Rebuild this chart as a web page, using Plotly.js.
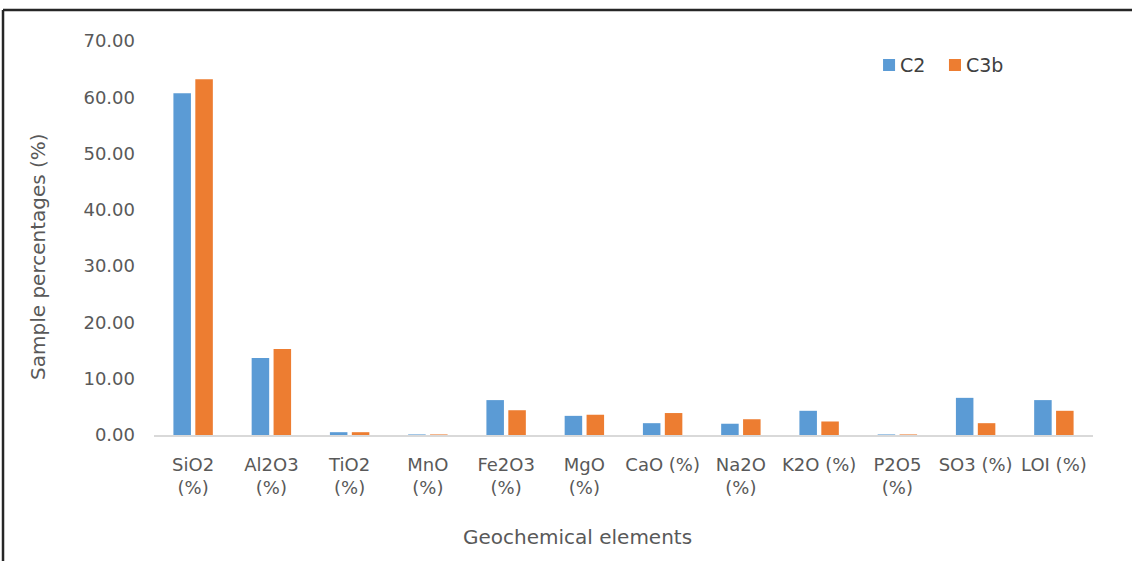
<!DOCTYPE html>
<html>
<head>
<meta charset="utf-8">
<script src="https://cdn.plot.ly/plotly-3.0.1.min.js"></script>
<style>
  html, body { margin: 0; padding: 0; background: #fff; }
  #chart { width: 1132px; height: 561px; }
</style>
</head>
<body>
<div id="chart"></div>
<script>
// Oxide categories and their axis labels (wrapped where the label is long)
const categories = ["SiO2 (%)", "Al2O3 (%)", "TiO2 (%)", "MnO (%)", "Fe2O3 (%)", "MgO (%)",
                    "CaO (%)", "Na2O (%)", "K2O (%)", "P2O5 (%)", "SO3 (%)", "LOI (%)"];
const tickLabels = ["SiO2<br>(%)", "Al2O3<br>(%)", "TiO2<br>(%)", "MnO<br>(%)", "Fe2O3<br>(%)", "MgO<br>(%)",
                    "CaO (%)", "Na2O<br>(%)", "K2O (%)", "P2O5<br>(%)", "SO3 (%)", "LOI (%)"];

// Sample compositions (wt %)
const seriesNames = ["C2", "C3b"];
const c2Values  = [60.7, 13.7, 0.5, 0.1, 6.2, 3.4, 2.1, 2.0, 4.3, 0.1, 6.6, 6.2];
const c3bValues = [63.2, 15.3, 0.5, 0.1, 4.4, 3.6, 3.9, 2.8, 2.4, 0.1, 2.1, 4.3];
const yTicks = [0, 10, 20, 30, 40, 50, 60, 70];

const colors = ["#5B9BD5", "#ED7D31"];
const textColor = "#595959";
const font = "DejaVu Sans, sans-serif";

const traces = [c2Values, c3bValues].map((vals, i) => ({
  type: "bar",
  name: seriesNames[i],
  x: categories,
  y: vals,
  marker: { color: colors[i] },
  hoverinfo: "x+y+name"
}));

// Legend drawn as small swatches with labels at the upper right
const legendX = [0.7764, 0.8466];
const shapes = [];
const annotations = [];
seriesNames.forEach((name, i) => {
  shapes.push({
    type: "rect", xref: "paper", yref: "paper",
    x0: legendX[i], x1: legendX[i] + 0.0128, y0: 0.9239, y1: 0.9543,
    fillcolor: colors[i], line: { width: 0 }
  });
  annotations.push({
    xref: "paper", yref: "paper", x: legendX[i] + 0.0155, y: 0.9391,
    xanchor: "left", yanchor: "middle", showarrow: false,
    text: name, font: { family: font, size: 19, color: "#404040" }
  });
});

// Frame lines around the figure
shapes.push({ type: "line", xref: "paper", yref: "paper", x0: -0.1608, x1: -0.1608, y0: -0.4, y1: 1.0787,
              line: { color: "#262626", width: 2.5 } });
shapes.push({ type: "line", xref: "paper", yref: "paper", x0: -0.1608, x1: 1.1, y0: 1.0787, y1: 1.0787,
              line: { color: "#262626", width: 2.5 } });

// Axis titles
annotations.push({
  xref: "paper", yref: "paper", x: 0.4505, y: -0.259, xanchor: "center", yanchor: "middle",
  showarrow: false, text: "Geochemical elements",
  font: { family: font, size: 20, color: textColor }
});
annotations.push({
  xref: "paper", yref: "paper", x: -0.1235, y: 0.452, xanchor: "center", yanchor: "middle",
  textangle: -90, showarrow: false, text: "Sample percentages (%)",
  font: { family: font, size: 20, color: textColor }
});

const layout = {
  width: 1132,
  height: 561,
  margin: { l: 154, r: 39, t: 41, b: 126 },
  paper_bgcolor: "#ffffff",
  plot_bgcolor: "#ffffff",
  showlegend: false,
  barmode: "group",
  bargap: 0.44,
  bargroupgap: 0.2,
  font: { family: font, size: 18, color: textColor },
  xaxis: {
    type: "category",
    tickmode: "array",
    tickvals: categories,
    ticktext: tickLabels,
    ticks: "",
    showline: true,
    linecolor: "#d9d9d9",
    linewidth: 2,
    showgrid: false,
    zeroline: false,
    ticklabelstandoff: 12,
    tickfont: { family: font, size: 18, color: textColor },
    fixedrange: true
  },
  yaxis: {
    range: [0, 70],
    tickmode: "array",
    tickvals: yTicks,
    tickformat: ".2f",
    ticks: "",
    showline: false,
    showgrid: false,
    zeroline: false,
    ticklabelstandoff: 18,
    tickfont: { family: font, size: 18, color: textColor },
    fixedrange: true
  },
  shapes: shapes,
  annotations: annotations
};

Plotly.newPlot("chart", traces, layout, { displayModeBar: false, staticPlot: true });
</script>
</body>
</html>
